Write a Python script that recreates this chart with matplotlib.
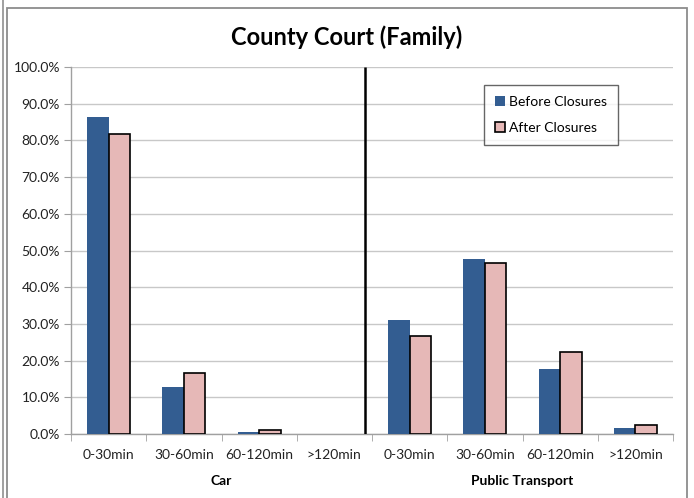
import numpy as np
import matplotlib
matplotlib.use("Agg")
import matplotlib.pyplot as plt
from matplotlib.lines import Line2D
from matplotlib.patches import Rectangle

# data (percent)
categories = ["0-30min", "30-60min", "60-120min", ">120min",
              "0-30min", "30-60min", "60-120min", ">120min"]
groups = ["Car", "Public Transport"]
before = [86.4, 12.8, 0.6, 0.0, 31.1, 47.7, 17.7, 1.7]
after = [81.7, 16.6, 1.1, 0.0, 26.7, 46.6, 22.3, 2.5]
series_names = ["Before Closures", "After Closures"]

BLUE = "#335D91"
PINK = "#E6B8B7"
GRID = "#C8C8C8"

plt.rcParams["font.family"] = ["Lato", "DejaVu Sans"]

fig = plt.figure(figsize=(6.94, 4.98), dpi=100)
ax = fig.add_axes([71/694, 1 - 434/498, (673 - 71)/694, (434 - 67)/498])

x = np.arange(len(categories))
w = 0.286
ax.bar(x - w/2, before, w, color=BLUE, edgecolor="none", zorder=3,
       label=series_names[0])
# no outline on empty bars
edge_w = [1.2 if v > 0 else 0 for v in after]
ax.bar(x + w/2, after, w, color=PINK, edgecolor="black", linewidth=edge_w,
       zorder=3, label=series_names[1])

# separator between car and public transport
ax.plot([3.41, 3.41], [0, 100], color="black", lw=1.8, zorder=4,
        solid_capstyle="butt")

ax.set_xlim(-0.5, len(categories) - 0.5)
ax.set_ylim(0, 100)
ax.set_yticks(np.arange(0, 101, 10))
ax.set_yticklabels([f"{v:.1f}%" for v in np.arange(0, 101, 10)],
                   fontsize=10, color="#222222")
ax.yaxis.grid(True, color=GRID, lw=1, zorder=0)
ax.set_axisbelow(True)

ax.set_xticks(x)
ax.set_xticklabels(categories, fontsize=10, color="#222222")
ax.set_xticks(np.arange(-0.5, len(categories), 1), minor=True)
ax.tick_params(axis="x", which="major", length=0, pad=11)
ax.tick_params(axis="x", which="minor", length=5, color="#A0A0A0",
               direction="out")
ax.tick_params(axis="y", length=5, color="#A0A0A0", pad=3)

for s in ["top", "right"]:
    ax.spines[s].set_visible(False)
for s in ["left", "bottom"]:
    ax.spines[s].set_color("#A0A0A0")
    ax.spines[s].set_linewidth(1.0)

# group labels below the categories
ax.text(1.5, -12.9, groups[0], ha="center", va="center", fontsize=10,
        fontweight="bold", clip_on=False)
ax.text(5.5, -12.9, groups[1], ha="center", va="center", fontsize=10,
        fontweight="bold", clip_on=False)

fig.text(347/694, 1 - 37/498, "County Court (Family)", ha="center",
         va="center", fontsize=17, fontweight="bold")

handles = [Rectangle((0, 0), 1, 1, fc=BLUE, ec="none"),
           Rectangle((0, 0), 1, 1, fc=PINK, ec="black", lw=1.2)]
leg = ax.legend(handles, series_names, loc="upper left",
                bbox_to_anchor=((484 - 71)/602, 1 - (85 - 67)/367),
                fontsize=10, frameon=True, fancybox=False,
                handlelength=0.7, handleheight=0.7, handletextpad=0.3,
                labelspacing=1.0, borderpad=0.8, borderaxespad=0)
leg.get_frame().set_edgecolor("#404040")
leg.get_frame().set_linewidth(1.0)

# outer chart frame
fig.add_artist(Line2D([2.5/694, 2.5/694], [0, 1], color="#909090", lw=1.2))
fig.add_artist(Rectangle((7/694, -0.05), (687 - 7)/694, 1 - 8/498 + 0.05,
                         transform=fig.transFigure, fill=False,
                         ec="#8C8C8C", lw=1.3))

fig.savefig("out.png", dpi=100)
